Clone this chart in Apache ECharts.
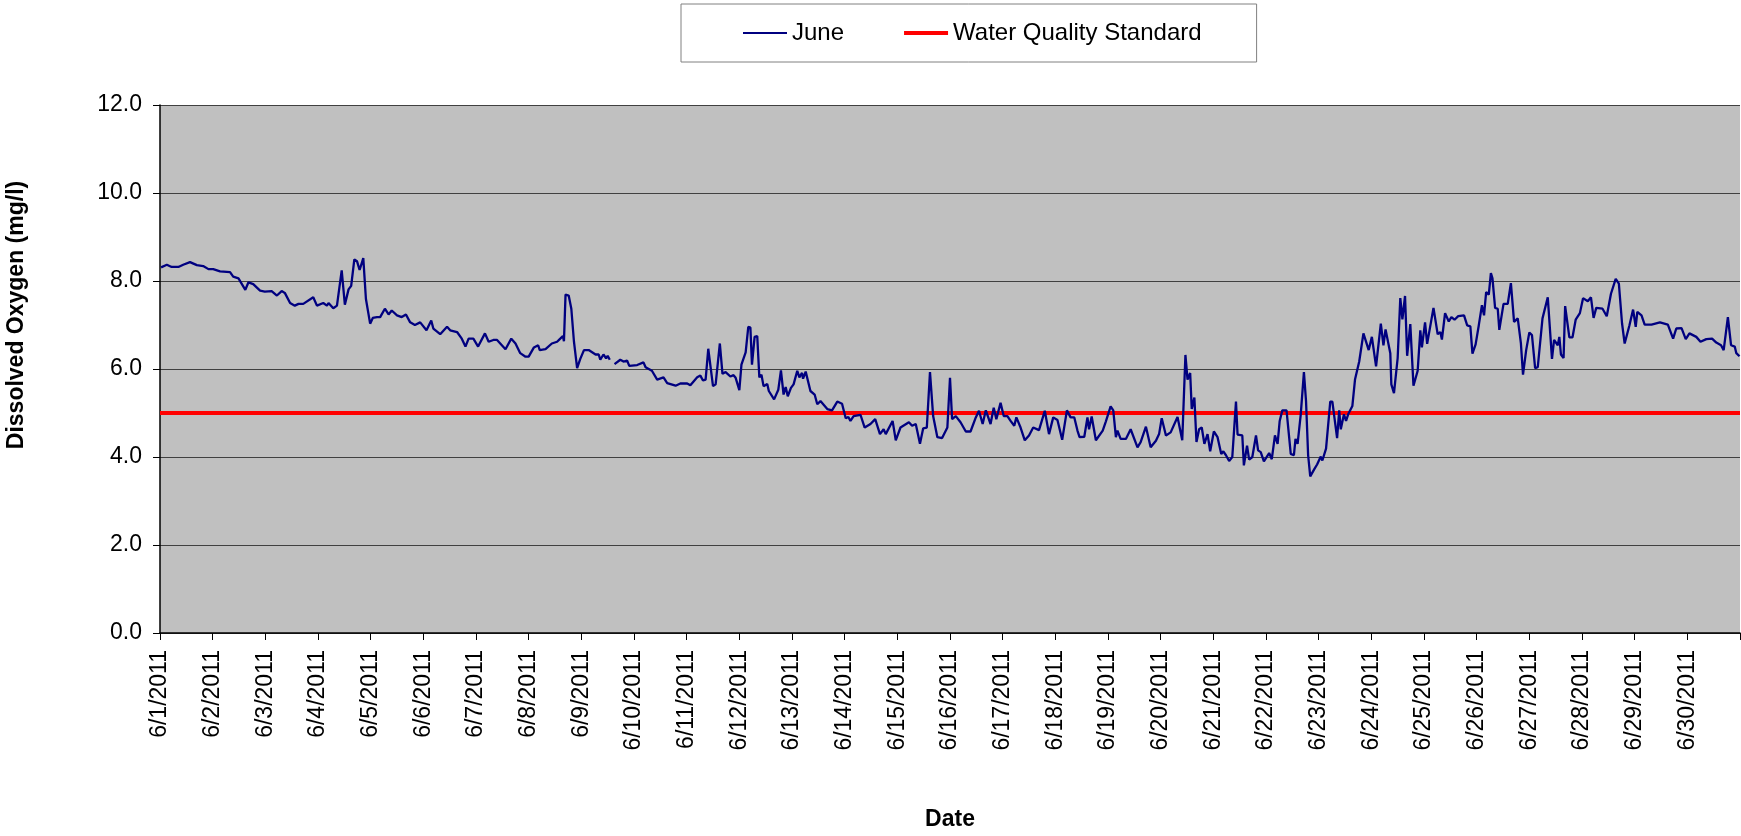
<!DOCTYPE html>
<html>
<head>
<meta charset="utf-8">
<title>Dissolved Oxygen - June 2011</title>
<script src="https://cdn.jsdelivr.net/npm/echarts@6/dist/echarts.min.js"></script>
<style>
  html, body { margin: 0; padding: 0; background: #fff; }
  #chart { width: 1741px; height: 836px; }
</style>
</head>
<body>
<div id="chart"></div>
<script>
// x tick labels, one per day (tick 30 = end of month, unlabeled)
var dayLabels = [
  "6/1/2011", "6/2/2011", "6/3/2011", "6/4/2011", "6/5/2011", "6/6/2011",
  "6/7/2011", "6/8/2011", "6/9/2011", "6/10/2011", "6/11/2011", "6/12/2011",
  "6/13/2011", "6/14/2011", "6/15/2011", "6/16/2011", "6/17/2011", "6/18/2011",
  "6/19/2011", "6/20/2011", "6/21/2011", "6/22/2011", "6/23/2011", "6/24/2011",
  "6/25/2011", "6/26/2011", "6/27/2011", "6/28/2011", "6/29/2011", "6/30/2011"
];

var yTicks = [0, 2, 4, 6, 8, 10, 12];

// sample time, in days since 6/1/2011 00:00
var sampleDay = [
  0.02, 0.13, 0.22, 0.35, 0.44, 0.57, 0.70, 0.82, 0.92,
  1.01, 1.14, 1.33, 1.39, 1.49, 1.62, 1.68, 1.77, 1.90, 1.99,
  2.12, 2.22, 2.31, 2.37, 2.47, 2.56, 2.63, 2.72, 2.91, 2.98,
  3.10, 3.17, 3.20, 3.29, 3.36, 3.45, 3.51, 3.58, 3.63, 3.69, 3.74, 3.79, 3.82, 3.86, 3.91, 3.99,
  4.04, 4.12, 4.18, 4.27, 4.34, 4.40, 4.50, 4.59, 4.67, 4.75, 4.84, 4.94,
  5.06, 5.15, 5.19, 5.32, 5.45, 5.51, 5.64, 5.73, 5.80, 5.86, 5.95,
  6.04, 6.17, 6.24, 6.33, 6.40, 6.56, 6.67, 6.75, 6.84, 6.94,
  7.00, 7.10, 7.18, 7.21, 7.32, 7.44, 7.54, 7.60, 7.65, 7.67, 7.70, 7.76, 7.81, 7.86, 7.92, 7.98,
  8.05, 8.14, 8.27, 8.33, 8.36, 8.42, 8.47, 8.50, 8.54, 8.58, 8.63, 8.74, 8.80, 8.87, 8.91,
  9.06, 9.18, 9.22, 9.34, 9.44, 9.56, 9.63, 9.79, 9.88,
  10.01, 10.07, 10.20, 10.26, 10.31, 10.36, 10.41, 10.50, 10.55, 10.63, 10.68, 10.74, 10.83, 10.89, 10.93,
  11.00, 11.04, 11.12, 11.17, 11.21, 11.24, 11.29, 11.34, 11.38, 11.42, 11.46, 11.53, 11.56, 11.66, 11.74, 11.79, 11.84, 11.88, 11.92, 11.98,
  12.03, 12.10, 12.14, 12.19, 12.21, 12.26, 12.35, 12.43, 12.48, 12.54, 12.67, 12.76, 12.86, 12.95,
  13.02, 13.07, 13.11, 13.17, 13.30, 13.38, 13.49, 13.58, 13.67, 13.74, 13.78, 13.91, 13.97,
  14.06, 14.22, 14.28, 14.35, 14.43, 14.49, 14.56, 14.62, 14.68, 14.76, 14.85, 14.95,
  15.00, 15.04, 15.11, 15.20, 15.30, 15.39, 15.49, 15.55, 15.62, 15.68, 15.77, 15.83, 15.88, 15.96,
  16.02, 16.09, 16.15, 16.22, 16.26, 16.34, 16.42, 16.50, 16.58, 16.69, 16.80, 16.88, 16.96,
  17.04, 17.13, 17.22, 17.29, 17.36, 17.42, 17.46, 17.55, 17.61, 17.64, 17.69, 17.77, 17.90, 17.96,
  18.05, 18.10, 18.15, 18.18, 18.24, 18.34, 18.43, 18.56, 18.62, 18.72, 18.81, 18.91, 18.97,
  19.02, 19.10, 19.19, 19.32, 19.41, 19.47, 19.51, 19.56, 19.59, 19.64, 19.68, 19.73, 19.78, 19.83, 19.89, 19.94,
  20.01, 20.08, 20.15, 20.19, 20.24, 20.30, 20.36, 20.43, 20.46, 20.55, 20.58, 20.64, 20.68, 20.74, 20.81, 20.85, 20.90, 20.96,
  21.06, 21.11, 21.17, 21.22, 21.26, 21.31, 21.39, 21.47, 21.53, 21.56, 21.60, 21.66, 21.72, 21.76, 21.80, 21.84, 21.92, 21.97,
  22.04, 22.07, 22.14, 22.22, 22.26, 22.35, 22.39, 22.42, 22.48, 22.52, 22.56, 22.64, 22.69, 22.77, 22.85, 22.95,
  23.01, 23.09, 23.18, 23.23, 23.27, 23.36, 23.38, 23.43, 23.50, 23.55, 23.59, 23.64, 23.68, 23.74, 23.80, 23.88, 23.93, 23.96,
  24.02, 24.06, 24.18, 24.26, 24.31, 24.34, 24.40, 24.47, 24.52, 24.58, 24.65, 24.76, 24.82, 24.88, 24.92, 24.98,
  25.04, 25.10, 25.14, 25.18, 25.23, 25.27, 25.30, 25.35, 25.40, 25.43, 25.51, 25.59, 25.65, 25.71, 25.78, 25.84, 25.88, 25.94,
  26.00, 26.05, 26.11, 26.16, 26.25, 26.35, 26.43, 26.47, 26.54, 26.57, 26.60, 26.65, 26.68, 26.76, 26.82, 26.88, 26.96,
  27.02, 27.11, 27.17, 27.22, 27.27, 27.39, 27.47, 27.55, 27.64, 27.70, 27.76, 27.81, 27.90, 27.97,
  28.02, 28.05, 28.13, 28.19, 28.32, 28.48, 28.63, 28.73, 28.79, 28.89, 28.97,
  29.04, 29.17, 29.25, 29.36, 29.47, 29.55, 29.64, 29.69, 29.77, 29.83, 29.90, 29.93, 29.99
];

// dissolved oxygen (mg/l), null = gap in the record
var dissolvedOxygen = [
  8.31, 8.37, 8.32, 8.32, 8.37, 8.43, 8.36, 8.34, 8.27,
  8.27, 8.22, 8.20, 8.10, 8.06, 7.80, 7.97, 7.93, 7.78, 7.76,
  7.77, 7.67, 7.77, 7.73, 7.50, 7.44, 7.48, 7.48, 7.63, 7.44,
  7.50, 7.44, 7.50, 7.38, 7.44, 8.24, 7.46, 7.81, 7.89, 8.49, 8.45, 8.25, 8.27, 8.52, 7.59, 7.03,
  7.16, 7.18, 7.18, 7.37, 7.24, 7.33, 7.22, 7.18, 7.24, 7.06, 7.00, 7.06,
  6.88, 7.10, 6.92, 6.79, 6.96, 6.88, 6.84, 6.69, 6.51, 6.69, 6.69,
  6.51, 6.81, 6.62, 6.66, 6.66, 6.45, 6.69, 6.58, 6.36, 6.28,
  6.28, 6.49, 6.54, 6.43, 6.45, 6.58, 6.62, 6.69, 6.75, 6.63, 7.69, 7.67, 7.37, 6.62, 6.02, 6.23,
  6.43, 6.43, 6.33, 6.33, 6.21, 6.33, 6.24, 6.30, 6.21, null, 6.11, 6.21, 6.17, 6.19, 6.07,
  6.09, 6.15, 6.04, 5.96, 5.76, 5.81, 5.68, 5.62, 5.67,
  5.67, 5.63, 5.81, 5.85, 5.74, 5.76, 6.46, 5.61, 5.65, 6.58, 5.89, 5.93, 5.83, 5.86, 5.80,
  5.52, 6.10, 6.38, 6.96, 6.94, 6.10, 6.73, 6.75, 5.81, 5.87, 5.61, 5.66, 5.50, 5.31, 5.53, 5.97, 5.42, 5.59, 5.38, 5.57,
  5.65, 5.96, 5.81, 5.91, 5.78, 5.94, 5.50, 5.42, 5.20, 5.27, 5.09, 5.06, 5.26, 5.21,
  4.88, 4.91, 4.82, 4.93, 4.96, 4.67, 4.75, 4.86, 4.52, 4.63, 4.52, 4.82, 4.38,
  4.67, 4.79, 4.71, 4.75, 4.30, 4.65, 4.67, 5.93, 4.93, 4.45, 4.43, 4.67,
  5.80, 4.86, 4.93, 4.79, 4.58, 4.58, 4.90, 5.05, 4.75, 5.06, 4.75, 5.12, 4.86, 5.23,
  4.93, 4.93, 4.82, 4.71, 4.90, 4.67, 4.38, 4.49, 4.67, 4.61, 5.05, 4.52, 4.90,
  4.84, 4.39, 5.06, 4.90, 4.90, 4.60, 4.45, 4.46, 4.90, 4.63, 4.92, 4.38, 4.60, 4.81,
  5.15, 5.06, 4.45, 4.60, 4.41, 4.41, 4.63, 4.22, 4.34, 4.69, 4.22, 4.37, 4.52,
  4.88, 4.49, 4.56, 4.91, 4.38, 6.32, 5.76, 5.91, 5.09, 5.35, 4.34, 4.63, 4.67, 4.30, 4.52, 4.13,
  4.58, 4.45, 4.07, 4.13, 4.04, 3.91, 4.00, 5.26, 4.51, 4.49, 3.81, 4.26, 3.94, 4.00, 4.49, 4.15, 4.11, 3.90,
  4.09, 3.95, 4.49, 4.30, 4.82, 5.06, 5.06, 4.07, 4.04, 4.41, 4.30, 4.97, 5.93, 5.27, 4.04, 3.56, 3.73, 3.83,
  4.01, 3.92, 4.19, 5.26, 5.26, 4.43, 5.06, 4.63, 4.97, 4.82, 4.97, 5.16, 5.76, 6.17, 6.81, 6.43,
  6.73, 6.06, 7.03, 6.54, 6.90, 6.36, 5.65, 5.45, 6.25, 7.61, 7.13, 7.66, 6.30, 7.02, 5.62, 5.96, 6.88, 6.49,
  7.06, 6.57, 7.39, 6.79, 6.84, 6.67, 7.27, 7.08, 7.18, 7.12, 7.20, 7.22, 6.99, 6.97, 6.35, 6.56,
  6.99, 7.45, 7.22, 7.75, 7.69, 8.18, 8.06, 7.39, 7.37, 6.89, 7.48, 7.48, 7.95, 7.07, 7.15, 6.58, 5.87, 6.43,
  6.83, 6.77, 6.02, 6.04, 7.15, 7.63, 6.23, 6.66, 6.54, 6.73, 6.33, 6.25, 7.43, 6.72, 6.72, 7.12, 7.27,
  7.61, 7.54, 7.63, 7.16, 7.39, 7.37, 7.20, 7.71, 8.05, 7.94, 7.04, 6.58, 6.99, 7.35,
  6.96, 7.30, 7.22, 7.01, 7.01, 7.06, 7.01, 6.69, 6.92, 6.93, 6.68,
  6.81, 6.73, 6.62, 6.68, 6.69, 6.60, 6.54, 6.43, 7.18, 6.54, 6.51, 6.36, 6.29
];

// water quality standard (mg/l), drawn across the whole month
var standardDay = [0, 30];
var standardValue = [5, 5];

var junePoints = sampleDay.map(function (d, i) { return [d, dissolvedOxygen[i]]; });
var standardPoints = standardDay.map(function (d, i) { return [d, standardValue[i]]; });

var font = "'Liberation Sans', Arial, sans-serif";

// plain line swatches for the legend (thin navy, thick red), no marker dot
var thinSwatch = "path://M0,0H0.01V0.01H0Z M0,6H44V8H0Z M43.99,13.99H44V14H43.99Z";
var thickSwatch = "path://M0,0H0.01V0.01H0Z M0,5H44V9H0Z M43.99,13.99H44V14H43.99Z";

var chart = echarts.init(document.getElementById("chart"));
var option = {
  animation: false,
  textStyle: { fontFamily: font, color: "#000" },
  legend: {
    left: 681,
    top: 4,
    padding: [17, 55, 17, 62],
    itemGap: 60,
    itemWidth: 44,
    itemHeight: 14,
    borderColor: "#808080",
    borderWidth: 1,
    backgroundColor: "#fff",
    textStyle: { fontFamily: font, fontSize: 24, color: "#000" },
    data: [
      { name: "June", icon: thinSwatch },
      { name: "Water Quality Standard", icon: thickSwatch }
    ]
  },
  grid: {
    left: 160,
    right: 1,
    top: 105,
    bottom: 198,
    show: true,
    backgroundColor: "#c0c0c0",
    borderWidth: 0
  },
  xAxis: {
    type: "value",
    min: 0,
    max: 30,
    interval: 1,
    name: "Date",
    nameLocation: "middle",
    nameGap: 175,
    nameTextStyle: { fontFamily: font, fontSize: 23, fontWeight: "bold", color: "#000" },
    axisLine: { show: true, onZero: false, lineStyle: { color: "#000", width: 1.5 } },
    axisTick: { show: true, length: 7, lineStyle: { color: "#000" } },
    axisLabel: {
      rotate: 90,
      margin: 17,
      fontFamily: font,
      fontSize: 23,
      color: "#000",
      formatter: function (v) { return dayLabels[v] || ""; }
    },
    splitLine: { show: false }
  },
  yAxis: {
    type: "value",
    min: yTicks[0],
    max: yTicks[yTicks.length - 1],
    interval: 2,
    axisLine: { show: true, lineStyle: { color: "#000", width: 1.5 } },
    axisTick: { show: true, length: 7, lineStyle: { color: "#000" } },
    axisLabel: {
      margin: 18,
      fontFamily: font,
      fontSize: 23,
      color: "#000",
      formatter: function (v) { return v.toFixed(1); }
    },
    splitLine: { show: true, lineStyle: { color: "#404040", width: 1 } }
  },
  graphic: [
    {
      type: "text",
      x: 17,
      y: 315,
      rotation: Math.PI / 2,
      style: {
        text: "Dissolved Oxygen (mg/l)",
        font: "bold 23px " + font,
        fill: "#000",
        align: "center",
        verticalAlign: "middle"
      }
    }
  ],
  series: [
    {
      name: "June",
      type: "line",
      data: junePoints,
      symbol: "none",
      connectNulls: false,
      lineStyle: { color: "#000080", width: 2.3 },
      itemStyle: { color: "#000080" },
      z: 3
    },
    {
      name: "Water Quality Standard",
      type: "line",
      data: standardPoints,
      symbol: "none",
      lineStyle: { color: "#ff0000", width: 4 },
      itemStyle: { color: "#ff0000" },
      z: 2
    }
  ]
};
chart.setOption(option);
window.addEventListener("resize", function () { chart.resize(); });
</script>
</body>
</html>
